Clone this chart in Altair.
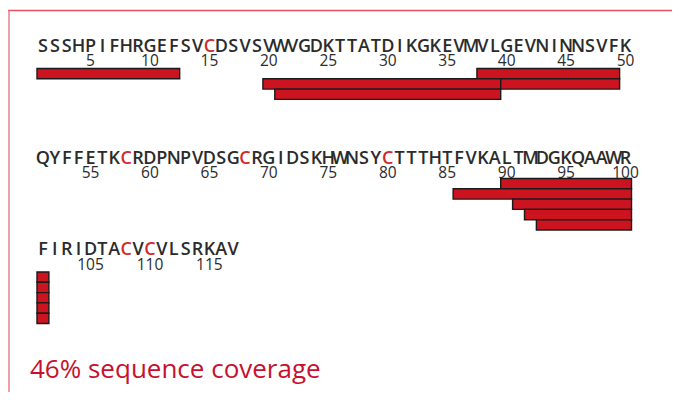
import altair as alt
import pandas as pd

# ---------------- data ----------------
SEQ_ROW1 = "SSSHPIFHRGEFSVCDSVSVWVGDKTTATDIKGKEVMVLGEVNINNSVFK"
SEQ_ROW2 = "QYFFETKCRDPNPVDSGCRGIDSKHWNSYCTTTHTFVKALTMDGKQAAWR"
SEQ_ROW3 = "FIRIDTACVCVLSRKAV"
SEQUENCE = SEQ_ROW1 + SEQ_ROW2 + SEQ_ROW3

PEPTIDE_START = [1, 38, 20, 40, 21, 90, 86, 91, 92, 93]
PEPTIDE_END = [12, 49, 39, 49, 39, 101, 101, 101, 101, 101]

TICKS = [5, 10, 15, 20, 25, 30, 35, 40, 45, 50,
         55, 60, 65, 70, 75, 80, 85, 90, 95, 100,
         105, 110, 115]

COVERAGE_LABEL = "46% sequence coverage"

# ---------------- layout ----------------
PER_ROW = 50
ROW_LETTER_BASE = [52, 164, 255]
ROW_NUMBER_BASE = [65.5, 177.5, 270]
ROW_BAR_TOP = [68.5, 178.5, 272]
LANE_H = 10.3
W, H = 664, 384

RED_C = "#d42a2a"
TEXT_COL = "#2b2b2b"
BAR_FILL = "#cc1420"


def row_of(n):
    return (n - 1) // PER_ROW


def pos_of(n):
    return (n - 1) % PER_ROW + 1


letters = pd.DataFrame({
    "n": range(1, len(SEQUENCE) + 1),
    "aa": list(SEQUENCE),
})
letters["pos"] = letters["n"].map(pos_of)
letters["y"] = letters["n"].map(lambda n: ROW_LETTER_BASE[row_of(n)])
letters["col"] = letters["aa"].map(lambda a: RED_C if a == "C" else TEXT_COL)

numbers = pd.DataFrame({"t": TICKS})
numbers["pos"] = numbers["t"].map(pos_of)
numbers["y"] = numbers["t"].map(lambda n: ROW_NUMBER_BASE[row_of(n)])
numbers["label"] = numbers["t"].astype(str)

# first-fit lane assignment
lanes = []
lane_of = []
for s, e in zip(PEPTIDE_START, PEPTIDE_END):
    placed = False
    for li, occ in enumerate(lanes):
        if all(e < os_ or s > oe for os_, oe in occ):
            occ.append((s, e))
            lane_of.append(li)
            placed = True
            break
    if not placed:
        lanes.append([(s, e)])
        lane_of.append(len(lanes) - 1)

segs = []
for s, e, lane in zip(PEPTIDE_START, PEPTIDE_END, lane_of):
    for r in range(row_of(s), row_of(e) + 1):
        ss = max(s, r * PER_ROW + 1)
        ee = min(e, (r + 1) * PER_ROW)
        y0 = ROW_BAR_TOP[r] + lane * LANE_H
        segs.append({"x0": pos_of(ss) - 0.5, "x1": pos_of(ee) + 0.5,
                     "y0": y0, "y1": y0 + LANE_H})
segs = pd.DataFrame(segs)

# ---------------- scales ----------------
xs = alt.Scale(domain=[-1.939, 53.906], nice=False, zero=False)
ys = alt.Scale(domain=[8, 8 + H], range=[0, H], nice=False, zero=False)

bars = alt.Chart(segs).mark_rect(
    fill=BAR_FILL, stroke="#1a1a1a", strokeWidth=1.4
).encode(
    x=alt.X("x0:Q", scale=xs, axis=None),
    x2="x1:Q",
    y=alt.Y("y0:Q", scale=ys, axis=None),
    y2="y1:Q",
)

letter_layer = alt.Chart(letters).mark_text(
    font="Open Sans", fontSize=18, fontWeight=600,
    baseline="alphabetic", align="center"
).encode(
    x=alt.X("pos:Q", scale=xs, axis=None),
    y=alt.Y("y:Q", scale=ys, axis=None),
    text="aa:N",
    color=alt.Color("col:N", scale=None),
)

number_layer = alt.Chart(numbers).mark_text(
    font="Open Sans", fontSize=15.5, fontWeight=500,
    baseline="alphabetic", align="center", color=TEXT_COL
).encode(
    x=alt.X("pos:Q", scale=xs, axis=None),
    y=alt.Y("y:Q", scale=ys, axis=None),
    text="label:N",
)

label_df = pd.DataFrame({"label": [COVERAGE_LABEL]})
cov_text = alt.Chart(label_df).mark_text(
    font="Open Sans", fontSize=26, color="#c8102e",
    align="left", baseline="alphabetic"
).encode(
    x=alt.value(22), y=alt.value(370), text="label:N"
)

top_border = alt.Chart(label_df).mark_rule(color="#e4505f", strokeWidth=1.5).encode(
    x=alt.value(0), x2=alt.value(W), y=alt.value(2.5)
)
left_border = alt.Chart(label_df).mark_rule(color="#e8808c", strokeWidth=1.5).encode(
    x=alt.value(1), y=alt.value(2.5), y2=alt.value(H)
)

chart = alt.layer(
    top_border, left_border, bars, letter_layer, number_layer, cov_text
).properties(
    width=W, height=H,
    autosize=alt.AutoSizeParams(type="none"),
    padding=0,
).configure_view(strokeWidth=0)

chart.save("out.html", embed_options={"renderer": "svg", "actions": False})
